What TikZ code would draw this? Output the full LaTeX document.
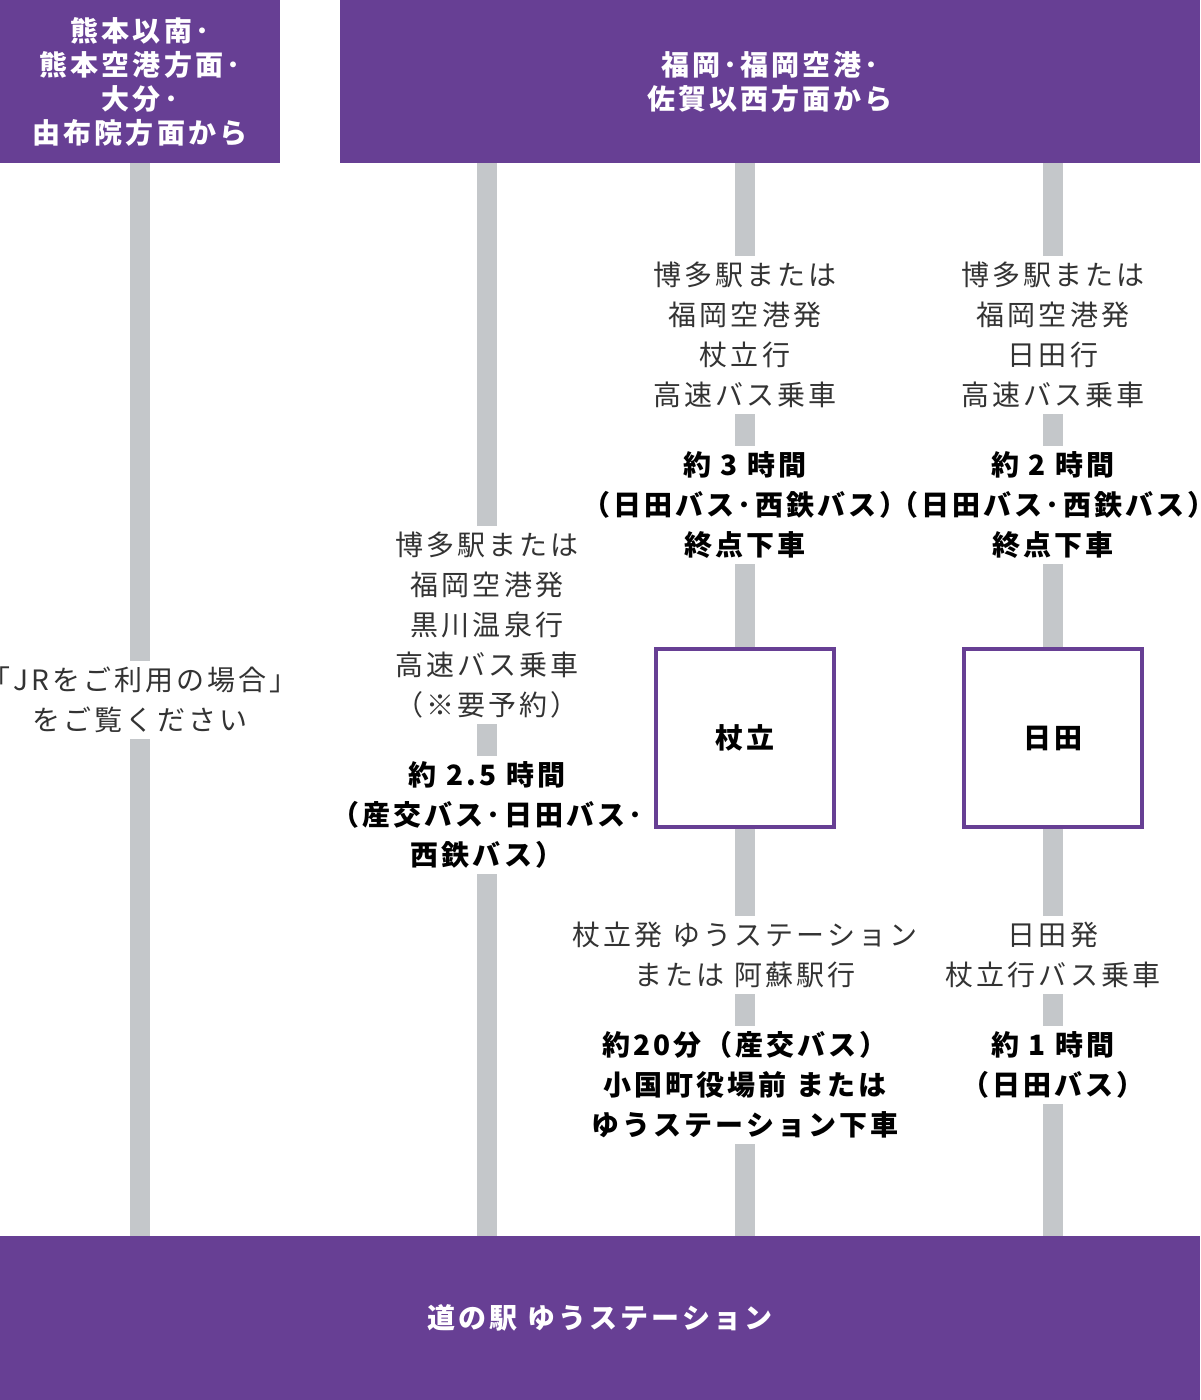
\documentclass[tikz,border=0pt]{standalone}
\usepackage{fontspec}
\setmainfont{Noto Sans CJK JP}
\usepackage{tikz}

\definecolor{routepurple}{HTML}{673F94}
\definecolor{routegray}{HTML}{C4C7CA}
\definecolor{routetext}{HTML}{333333}

\newcommand{\wide}{\addfontfeature{LetterSpace=11}}
\newcommand{\dt}{･}

\tikzset{
  headbox/.style={fill=routepurple, text=white, font=\fontsize{28}{34}\selectfont\bfseries\wide, align=center},
  rail/.style={draw=routegray, line width=20pt},
  guide/.style={fill=white, text=routetext, align=center, inner xsep=2pt, inner ysep=6pt, font=\fontsize{28}{40}\selectfont\wide},
  timing/.style={fill=white, text=black, align=center, inner xsep=2pt, inner ysep=6pt, font=\fontsize{28}{40}\selectfont\bfseries\wide},
  stopbox/.style={draw=routepurple, line width=4pt, fill=white, minimum width=178pt, minimum height=178pt, font=\fontsize{28}{34}\selectfont\bfseries\wide}
}

\begin{document}
\begin{tikzpicture}[x=1pt,y=-1pt]
  \useasboundingbox (0,0) rectangle (1200,1400);

  % rails
  \foreach \Name/\X in {kuma/140,kuro/487,tsue/745,hita/1053}
  {
    \coordinate (\Name top) at (\X,163);
    \coordinate (\Name end) at (\X,1236);
    \draw[rail] (\Name top) -- (\Name end);
  }

  % headers
  \node[headbox, minimum width=280pt, minimum height=163pt] (fromsouth) at (140,81.5)
    {熊本以南\dt\\熊本空港方面\dt\\大分\dt\\由布院方面から};
  \node[headbox, minimum width=860pt, minimum height=163pt] (fromnorth) at (770,81.5)
    {福岡\dt 福岡空港\dt\\佐賀以西方面から};
  \node[headbox, minimum width=1200pt, minimum height=164pt] (goal) at (600,1318)
    {道の駅 ゆうステーション};

  % left
  \node[guide] (jrnote) at (140,700) {「JRをご利用の場合」\\をご覧ください};

  % kurokawa
  \node[guide] (kurobus) at (487,625) {博多駅または\\福岡空港発\\黒川温泉行\\高速バス乗車\\（※要予約）};
  \node[timing] (kurotime) at (487,815) {約 2.5 時間\\（産交バス\dt 日田バス\dt\\西鉄バス）};

  % tsuetate
  \node[guide] (tsuebus) at (745,335) {博多駅または\\福岡空港発\\杖立行\\高速バス乗車};
  \node[timing] (tsuetime) at (745,505) {約 3 時間\\（日田バス\dt 西鉄バス）\\終点下車};
  \node[stopbox] (tsuestop) at (745,738) {杖立};
  \node[guide] (tsuenext) at (745,955) {杖立発 ゆうステーション\\または 阿蘇駅行};
  \node[timing] (tsuelast) at (745,1085) {約20分（産交バス）\\小国町役場前 または\\ゆうステーション下車};

  % hita
  \node[guide] (hitabus) at (1053,335) {博多駅または\\福岡空港発\\日田行\\高速バス乗車};
  \node[timing] (hitatime) at (1053,505) {約 2 時間\\（日田バス\dt 西鉄バス）\\終点下車};
  \node[stopbox] (hitastop) at (1053,738) {日田};
  \node[guide] (hitanext) at (1053,955) {日田発\\杖立行バス乗車};
  \node[timing] (hitalast) at (1053,1065) {約 1 時間\\（日田バス）};
\end{tikzpicture}
\end{document}
